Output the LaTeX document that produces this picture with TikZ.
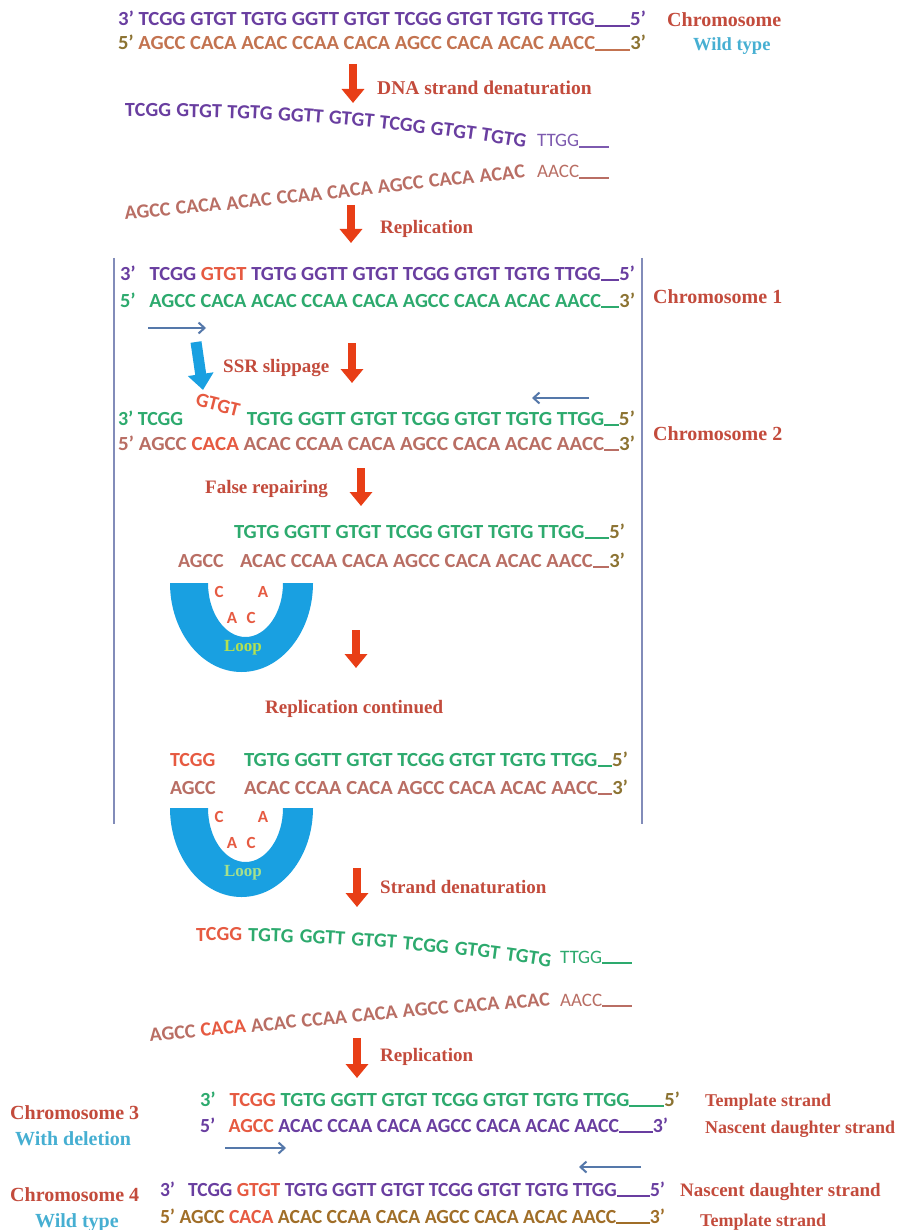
\documentclass[tikz,border=0pt]{standalone}
\usepackage{fontspec}
\usepackage{graphicx}
\setmainfont{Liberation Serif}
\newfontfamily\dna{Carlito}
\usetikzlibrary{arrows.meta,decorations.text}

\definecolor{dpurple}{RGB}{105,62,160}
\definecolor{lpurple}{RGB}{125,90,175}
\definecolor{dgreen}{RGB}{45,170,110}
\definecolor{sbrown}{RGB}{185,110,100}
\definecolor{obrown}{RGB}{195,115,80}
\definecolor{primec}{RGB}{140,115,50}
\definecolor{goldb}{RGB}{160,110,40}
\definecolor{sred}{RGB}{230,90,65}
\definecolor{labred}{RGB}{195,75,60}
\definecolor{arred}{RGB}{232,62,22}
\definecolor{labcyan}{RGB}{70,175,210}
\definecolor{loopblue}{RGB}{25,160,225}
\definecolor{arblue}{RGB}{85,120,170}
\definecolor{boxline}{RGB}{130,140,185}
\definecolor{loopgreen}{RGB}{180,225,80}
\definecolor{loopgreenb}{RGB}{165,225,140}

\newcommand\fs[1]{\fontsize{#1}{#1}\selectfont}
\newcommand\fitw[2]{\resizebox{#1}{\height}{#2}}
\newcommand\uln[1]{\rule[-0.6pt]{#1}{1.6pt}}
\newcommand\curvefont{\dna\bfseries\fontsize{20}{20}\selectfont}

\tikzset{
  strand/.style={anchor=base west, inner sep=0pt, outer sep=0pt, font=\dna\bfseries\fs{20}},
  lbl/.style={anchor=base west, inner sep=0pt, font=\bfseries\fs{19}, text=labred},
  cyanlbl/.style={anchor=base west, inner sep=0pt, font=\bfseries\fs{19}, text=labcyan},
  redarrow/.style={draw=arred, line width=8pt, -{Triangle[width=22pt,length=14pt]}},
  cyanarrow/.style={draw=loopblue, line width=11pt, -{Triangle[width=25pt,length=16pt]}},
  thinarrow/.style={draw=arblue, line width=2pt, -{Straight Barb[length=6pt,width=11pt]}},
  boxside/.style={draw=boxline, line width=1.6pt},
  loopletter/.style={inner sep=0pt, font=\dna\bfseries\fs{17}, text=sred},
  looplbl/.style={inner sep=0pt, font=\bfseries\fs{17}},
  curvetext/.style={decorate, decoration={text along path, text align={fit to path stretching spaces}, text={#1}}}
}

\begin{document}
\begin{tikzpicture}[x=1pt,y=-1pt]
\fill[white] (0,0) rectangle (904,1230);
\useasboundingbox (0,0) rectangle (904,1230);

% ---------- top: wild type chromosome ----------
\node[strand] (top1) at (118,26) {\fitw{528pt}{\color{dpurple}3’ TCGG GTGT TGTG GGTT GTGT TCGG GTGT TGTG TTGG\uln{34pt}5’}};
\node[strand] (top2) at (118,50) {\fitw{528pt}{{\color{primec}5’} \color{obrown}AGCC CACA ACAC CCAA CACA AGCC CACA ACAC AACC\uln{34pt}{\color{primec}3’}}};
\node[lbl, font=\bfseries\fs{20}] (chr0) at (667,27) {Chromosome};
\node[cyanlbl, font=\bfseries\fs{18.5}] (wt0) at (693,51) {Wild type};

\coordinate (a1s) at (353,64); \coordinate (a1e) at (353,103);
\draw[redarrow] (a1s) -- (a1e);
\node[lbl, font=\bfseries\fs{19.5}] (den1) at (377,95) {DNA strand denaturation};

% curved separated strands
\path[curvetext={|\curvefont\color{dpurple}|TCGG GTGT TGTG GGTT GTGT TCGG GTGT TGTG}]
  (125,117) .. controls (260,115) and (400,127) .. (525,148);
\node[strand, font=\dna\fs{19}, text=lpurple] (sepA) at (537,147) {TTGG\uln{30pt}};
\path[curvetext={|\curvefont\color{sbrown}|AGCC CACA ACAC CCAA CACA AGCC CACA ACAC}]
  (125,219) .. controls (260,209) and (400,190) .. (525,178);
\node[strand, font=\dna\fs{19}, text=sbrown] (sepB) at (537,178) {AACC\uln{30pt}};

\coordinate (a2s) at (351,205); \coordinate (a2e) at (351,243);
\draw[redarrow] (a2s) -- (a2e);
\node[lbl] (rep1) at (380,234) {Replication};

% ---------- box ----------
\coordinate (bxtl) at (114,258); \coordinate (bxbl) at (114,824);
\coordinate (bxtr) at (642,258); \coordinate (bxbr) at (642,824);
\draw[boxside] (bxtl) -- (bxbl);
\draw[boxside] (bxtr) -- (bxbr);

% chromosome 1
\node[strand] (c1a) at (120,280) {\fitw{515pt}{\color{dpurple}3’\hspace{0.45em} TCGG {\color{sred}GTGT} TGTG GGTT GTGT TCGG GTGT TGTG TTGG\uln{18pt}5’}};
\node[strand] (c1b) at (120,307) {\fitw{515pt}{\color{dgreen}5’\hspace{0.45em} AGCC CACA ACAC CCAA CACA AGCC CACA ACAC AACC\uln{18pt}{\color{primec}3’}}};
\node[lbl, font=\bfseries\fs{20}] (chr1) at (653,303) {Chromosome 1};

\coordinate (ba1s) at (148,328); \coordinate (ba1e) at (206,328);
\draw[thinarrow] (ba1s) -- (ba1e);
\coordinate (cas) at (196,342); \coordinate (cae) at (203,390);
\draw[cyanarrow] (cas) -- (cae);
\node[lbl] (ssr) at (223,372) {SSR slippage};
\coordinate (a3s) at (352,343); \coordinate (a3e) at (352,383);
\draw[redarrow] (a3s) -- (a3e);
\coordinate (ba2s) at (589,398); \coordinate (ba2e) at (532,398);
\draw[thinarrow] (ba2s) -- (ba2e);

% chromosome 2
\node[strand, text=dgreen] (c2a) at (118,425) {3’ TCGG};
\node[inner sep=0pt, font=\dna\bfseries\fs{20}, text=sred, rotate=-14] (slip) at (218,405) {GTGT};
\node[strand, anchor=base east] (c2b) at (635,425) {\fitw{388pt}{\color{dgreen}TGTG GGTT GTGT TCGG GTGT TGTG TTGG\uln{14pt}{\color{primec}5’}}};
\node[strand] (c2c) at (118,450) {\fitw{517pt}{\color{sbrown}5’ AGCC {\color{sred}CACA} ACAC CCAA CACA AGCC CACA ACAC AACC\uln{14pt}{\color{primec}3’}}};
\node[lbl, font=\bfseries\fs{20}] (chr2) at (653,440) {Chromosome 2};

\node[lbl] (false) at (205,493) {False repairing};
\coordinate (a4s) at (361,468); \coordinate (a4e) at (361,506);
\draw[redarrow] (a4s) -- (a4e);

\node[strand] (fr1) at (234,538) {\fitw{391pt}{\color{dgreen}TGTG GGTT GTGT TCGG GTGT TGTG TTGG\uln{24pt}{\color{primec}5’}}};
\node[strand, text=sbrown] (fr2a) at (178,567) {AGCC};
\node[strand] (fr2b) at (240,567) {\fitw{385pt}{\color{sbrown}ACAC CCAA CACA AGCC CACA ACAC AACC\uln{16pt}{\color{primec}3’}}};

% loop 1
\fill[loopblue] (170,583) arc[start angle=180,end angle=0,x radius=71.5,y radius=89]
   -- (283,583) arc[start angle=0,end angle=180,x radius=37.5,y radius=54] -- cycle;
\node[loopletter] (l1c1) at (219,592) {C};
\node[loopletter] (l1a1) at (263,592) {A};
\node[loopletter] (l1a2) at (232,618) {A};
\node[loopletter] (l1c2) at (251,618) {C};
\node[looplbl, text=loopgreen] (l1t) at (243,648) {Loop};

\coordinate (a5s) at (356,630); \coordinate (a5e) at (356,668);
\draw[redarrow] (a5s) -- (a5e);
\node[lbl] (repc) at (265,713) {Replication continued};

\node[strand, text=sred] (rc1a) at (170,766) {TCGG};
\node[strand] (rc1b) at (244,766) {\fitw{384pt}{\color{dgreen}TGTG GGTT GTGT TCGG GTGT TGTG TTGG\uln{14pt}{\color{primec}5’}}};
\node[strand, text=sbrown] (rc2a) at (170,794) {AGCC};
\node[strand] (rc2b) at (244,794) {\fitw{384pt}{\color{sbrown}ACAC CCAA CACA AGCC CACA ACAC AACC\uln{14pt}{\color{primec}3’}}};

% loop 2
\begin{scope}[shift={(0,225)}]
\fill[loopblue] (170,583) arc[start angle=180,end angle=0,x radius=71.5,y radius=89]
   -- (283,583) arc[start angle=0,end angle=180,x radius=37.5,y radius=54] -- cycle;
\node[loopletter] (l2c1) at (219,592) {C};
\node[loopletter] (l2a1) at (263,592) {A};
\node[loopletter] (l2a2) at (232,618) {A};
\node[loopletter] (l2c2) at (251,618) {C};
\node[looplbl, text=loopgreenb] (l2t) at (243,648) {Loop};
\end{scope}

\coordinate (a6s) at (357,868); \coordinate (a6e) at (357,907);
\draw[redarrow] (a6s) -- (a6e);
\node[lbl] (den2) at (380,893) {Strand denaturation};

\path[curvetext={|\curvefont\color{sred}|TCGG |\curvefont\color{dgreen}|TGTG GGTT GTGT TCGG GTGT TGTG}]
  (196,941) .. controls (320,940) and (440,950) .. (550,967);
\node[strand, font=\dna\fs{19}, text=dgreen] (sepC) at (560,963) {TTGG\uln{30pt}};
\path[curvetext={|\curvefont\color{sbrown}|AGCC |\curvefont\color{sred}|CACA |\curvefont\color{sbrown}|ACAC CCAA CACA AGCC CACA ACAC}]
  (150,1041) .. controls (280,1031) and (420,1014) .. (550,1006);
\node[strand, font=\dna\fs{19}, text=sbrown] (sepD) at (560,1006) {AACC\uln{30pt}};

\coordinate (a7s) at (357,1038); \coordinate (a7e) at (357,1078);
\draw[redarrow] (a7s) -- (a7e);
\node[lbl] (rep2) at (380,1061) {Replication};

% ---------- bottom ----------
\node[lbl, font=\bfseries\fs{20}] (chr3) at (10,1119) {Chromosome 3};
\node[cyanlbl, font=\bfseries\fs{20}] (del3) at (15,1145) {With deletion};
\node[strand] (b1) at (200,1106) {\fitw{480pt}{\color{dgreen}3’\hspace{0.45em} {\color{sred}TCGG} TGTG GGTT GTGT TCGG GTGT TGTG TTGG\uln{34pt}{\color{primec}5’}}};
\node[strand] (b2) at (200,1132) {\fitw{468pt}{\color{dpurple}5’\hspace{0.45em} {\color{sred}AGCC} ACAC CCAA CACA AGCC CACA ACAC AACC\uln{34pt}3’}};
\node[lbl, font=\bfseries\fs{18}] (tmp1) at (705,1106) {Template strand};
\node[lbl, font=\bfseries\fs{18}] (nas1) at (705,1133) {Nascent daughter strand};
\coordinate (ba3s) at (225,1148); \coordinate (ba3e) at (286,1148);
\draw[thinarrow] (ba3s) -- (ba3e);
\coordinate (ba4s) at (641,1167); \coordinate (ba4e) at (579,1167);
\draw[thinarrow] (ba4s) -- (ba4e);

\node[lbl, font=\bfseries\fs{20}] (chr4) at (10,1201) {Chromosome 4};
\node[cyanlbl, font=\bfseries\fs{20}] (wt4) at (35,1227) {Wild type};
\node[strand] (b3) at (160,1196) {\fitw{505pt}{\color{dpurple}3’\hspace{0.45em} TCGG {\color{sred}GTGT} TGTG GGTT GTGT TCGG GTGT TGTG TTGG\uln{34pt}5’}};
\node[strand] (b4) at (160,1223) {\fitw{505pt}{\color{goldb}5’ AGCC {\color{sred}CACA} ACAC CCAA CACA AGCC CACA ACAC AACC\uln{34pt}3’}};
\node[lbl, font=\bfseries\fs{19}] (nas2) at (680,1196) {Nascent daughter strand};
\node[lbl, font=\bfseries\fs{18}] (tmp2) at (700,1226) {Template strand};
\end{tikzpicture}
\end{document}
